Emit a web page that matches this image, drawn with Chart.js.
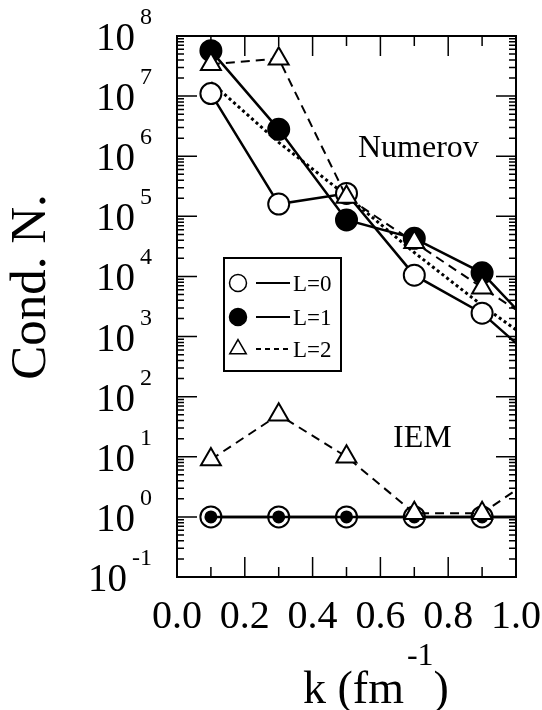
<!DOCTYPE html>
<html>
<head>
<meta charset="utf-8">
<script src="https://cdn.jsdelivr.net/npm/chart.js@4.4.0/dist/chart.umd.min.js"></script>
<style>
  body { margin: 0; background: #fff; }
  #wrap { width: 542px; height: 710px; }
</style>
</head>
<body>
<div id="wrap"><canvas id="c" width="542" height="710"></canvas></div>
<script>
// k values (last one only continues the line to the frame edge)
const kVals = [0.1, 0.3, 0.5, 0.7, 0.9, 1.0];

// Numerov
const numL0 = [1.1e7, 1.6e5, 2.4e5, 1.05e4, 2.45e3, 780];
const numL1 = [5.7e7, 2.8e6, 8.7e4, 4.3e4, 1.15e4, 2.9e3];
const numL2 = [3.4e7, 4.2e7, 2.1e5, 3.7e4, 6.5e3, 2.8e3];
const numFit = [1.7e7, 1.7e6, 2.2e5, 2.5e4, 3.3e3, 1.3e3];

// IEM
const iemL0 = [1, 1, 1, 1, 1, 1];
const iemL1 = [1, 1, 1, 1, 1, 1];
const iemL2 = [9, 50, 10, 1.15, 1.15, 2.8];

// ticks
const xMajor = [0.2, 0.4, 0.6, 0.8];
const xMinor = [0.1, 0.3, 0.5, 0.7, 0.9];
const xLabels = ["0.0", "0.2", "0.4", "0.6", "0.8", "1.0"];
const yExps = [-1, 0, 1, 2, 3, 4, 5, 6, 7, 8];

const FONT = "'Liberation Serif', 'DejaVu Serif', serif";

const pts = arr => arr.map((v, i) => ({ x: kVals[i], y: v }));
const rad = r => ctx => (ctx.raw && ctx.raw.x >= 1 ? 0 : r);

function set(label, data, o) {
  return Object.assign({
    label,
    data: pts(data),
    borderColor: "#000",
    borderWidth: 2.5,
    pointBorderColor: "#000",
    pointBorderWidth: 2,
    pointBackgroundColor: "#fff",
    pointRadius: rad(10.5),
    tension: 0,
    fill: false
  }, o);
}

// draw order: first dataset is on top
const datasets = [
  set("L=2 IEM", iemL2, { borderDash: [9, 6], borderWidth: 2, pointStyle: "triangle", pointRadius: rad(11.5) }),
  set("L=1 IEM", iemL1, { pointBackgroundColor: "#000", pointRadius: rad(5.5) }),
  set("L=0 IEM", iemL0, {}),
  set("L=2", numL2, { borderDash: [9, 6], borderWidth: 2, pointStyle: "triangle", pointRadius: rad(11.5) }),
  set("L=1", numL1, { pointBackgroundColor: "#000" }),
  set("L=0", numL0, {}),
  set("fit", numFit, { borderDash: [3, 3], borderWidth: 3, pointRadius: 0 })
];

function sup(ctx, base, exp, rightX, y) {
  ctx.font = "24px " + FONT;
  const ew = ctx.measureText(exp).width;
  ctx.textAlign = "left";
  ctx.fillText(exp, rightX - ew, y - 12);
  ctx.font = "39px " + FONT;
  ctx.textAlign = "right";
  ctx.fillText(base, rightX - ew - 5, y + 14);
}

const frame = {
  id: "frame",
  afterDatasetsDraw(chart) {
    const { ctx, chartArea: a, scales: { x, y } } = chart;
    ctx.save();
    ctx.strokeStyle = "#000";
    ctx.fillStyle = "#000";

    // inward ticks
    ctx.lineWidth = 1.5;
    ctx.beginPath();
    const xt = (v, len) => {
      const px = x.getPixelForValue(v);
      ctx.moveTo(px, a.bottom); ctx.lineTo(px, a.bottom - len);
      ctx.moveTo(px, a.top); ctx.lineTo(px, a.top + len);
    };
    xMajor.forEach(v => xt(v, 20));
    xMinor.forEach(v => xt(v, 10));
    const yt = (v, len) => {
      const py = y.getPixelForValue(v);
      ctx.moveTo(a.left, py); ctx.lineTo(a.left + len, py);
      ctx.moveTo(a.right, py); ctx.lineTo(a.right - len, py);
    };
    yExps.forEach(e => {
      if (e > -1 && e < 8) yt(Math.pow(10, e), 20);
      if (e < 8) for (let m = 2; m <= 9; m++) yt(m * Math.pow(10, e), 7);
    });
    ctx.stroke();

    ctx.lineWidth = 2;
    ctx.strokeRect(a.left, a.top, a.right - a.left, a.bottom - a.top);

    // tick labels
    ctx.textBaseline = "alphabetic";
    yExps.forEach(e => sup(ctx, "10", String(e), 152, y.getPixelForValue(Math.pow(10, e))));
    ctx.font = "40px " + FONT;
    ctx.textAlign = "center";
    xLabels.forEach(l => ctx.fillText(l, x.getPixelForValue(parseFloat(l)), 628));

    // axis titles
    ctx.textAlign = "left";
    ctx.font = "46px " + FONT;
    const t1 = "k (fm";
    ctx.fillText(t1, 303, 703);
    let tx = 303 + ctx.measureText(t1).width + 3;
    ctx.font = "32px " + FONT;
    ctx.fillText("-1", tx, 665);
    tx += ctx.measureText("-1").width;
    ctx.font = "46px " + FONT;
    ctx.fillText(")", tx, 703);

    ctx.save();
    ctx.translate(45, 287);
    ctx.rotate(-Math.PI / 2);
    ctx.textAlign = "center";
    ctx.font = "51px " + FONT;
    ctx.fillText("Cond. N.", 0, 0);
    ctx.restore();

    // annotations
    ctx.textAlign = "left";
    ctx.font = "32px " + FONT;
    ctx.fillText("Numerov", 358, 157);
    ctx.fillText("IEM", 393, 447);

    // legend box
    ctx.lineWidth = 2;
    ctx.fillStyle = "#fff";
    ctx.fillRect(224, 258, 117, 113);
    ctx.strokeRect(224, 258, 117, 113);
    const rows = [
      { y: 283, t: "L=0", style: "circle", fill: "#fff", dash: [] },
      { y: 317, t: "L=1", style: "circle", fill: "#000", dash: [] },
      { y: 349, t: "L=2", style: "triangle", fill: "#fff", dash: [5, 4] }
    ];
    rows.forEach(r => {
      ctx.strokeStyle = "#000";
      ctx.fillStyle = r.fill;
      ctx.lineWidth = 1.5;
      Chart.helpers.drawPoint(ctx, { pointStyle: r.style, radius: r.style === "triangle" ? 9.5 : 8.5, borderWidth: 1.5, rotation: 0 }, 238, r.y);
      ctx.beginPath();
      ctx.setLineDash(r.dash);
      ctx.lineWidth = 2;
      ctx.moveTo(256, r.y); ctx.lineTo(290, r.y);
      ctx.stroke();
      ctx.setLineDash([]);
      ctx.fillStyle = "#000";
      ctx.font = "23px " + FONT;
      ctx.fillText(r.t, 293, r.y + 8);
    });

    ctx.restore();
  }
};

new Chart(document.getElementById("c"), {
  type: "line",
  data: { datasets },
  options: {
    responsive: false,
    animation: false,
    devicePixelRatio: 1,
    layout: { padding: { left: 177, right: 26, top: 36, bottom: 133 } },
    plugins: { legend: { display: false }, tooltip: { enabled: false } },
    scales: {
      x: { type: "linear", min: 0, max: 1, display: false },
      y: { type: "logarithmic", min: 0.1, max: 1e8, display: false }
    }
  },
  plugins: [frame]
});
</script>
</body>
</html>
